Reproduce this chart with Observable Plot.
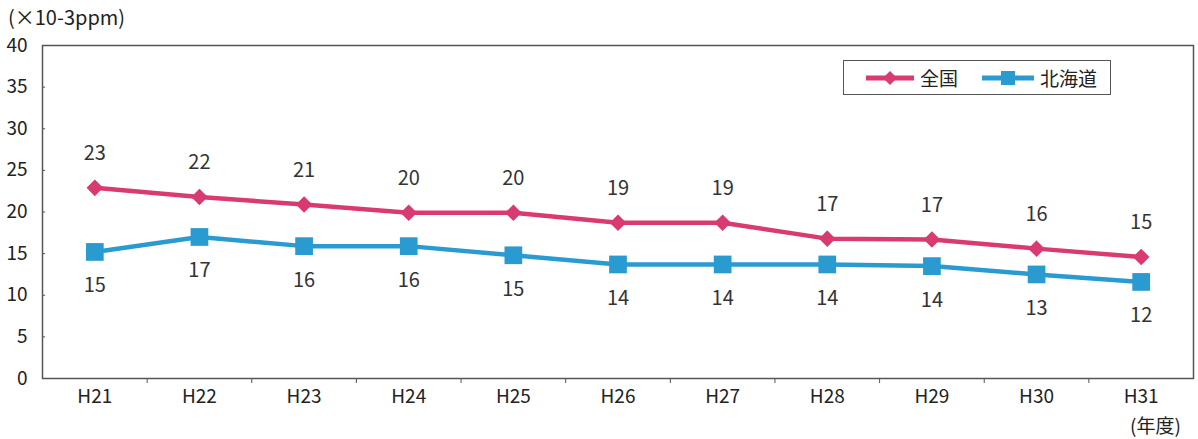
<!DOCTYPE html>
<html><head><meta charset="utf-8">
<script src="https://cdn.jsdelivr.net/npm/d3@7"></script>
<script src="https://cdn.jsdelivr.net/npm/@observablehq/plot@0.6"></script>
<style>
body{margin:0;background:#fff;}
#wrap{position:relative;width:1198px;height:439px;font-family:"Noto Sans CJK JP",sans-serif;}
.unit{position:absolute;left:8px;top:2px;font-size:20px;color:#222;}
.nendo{position:absolute;left:1130px;top:414px;font-size:19px;line-height:22px;color:#222;}
.legend{position:absolute;left:843px;top:60px;width:268px;height:35px;border:1.5px solid #555;box-sizing:border-box;display:flex;align-items:center;font-size:19px;color:#222;}
.legend .it{display:flex;align-items:center;margin-left:20px;}
.legend svg{margin-right:4px;}
</style></head><body>
<div id="wrap">
<div class="unit">(×10-3ppm)</div>
<div class="nendo">(年度)</div>
<div id="chart"></div>
<div class="legend">
 <div class="it"><svg width="52" height="16"><line x1="2" y1="8" x2="50" y2="8" stroke="#d93a72" stroke-width="5"/><path d="M26 1 L33 8 L26 15 L19 8Z" fill="#d93a72"/></svg>全国</div>
 <div class="it" style="margin-left:22px"><svg width="56" height="16"><line x1="2" y1="8" x2="54" y2="8" stroke="#2a9bd1" stroke-width="5"/><rect x="21" y="1" width="14" height="14" fill="#2a9bd1"/></svg>北海道</div>
</div>
</div>
<script>
const years = ["H21","H22","H23","H24","H25","H26","H27","H28","H29","H30","H31"];
const zenkoku = [22.9,21.8,20.9,19.9,19.9,18.7,18.7,16.8,16.7,15.6,14.6];
const zenkokuLabels = [23,22,21,20,20,19,19,17,17,16,15];
const hokkaido = [15.2,17.0,15.9,15.9,14.8,13.7,13.7,13.7,13.5,12.5,11.6];
const hokkaidoLabels = [15,17,16,16,15,14,14,14,14,13,12];
const yTicks = [0,5,10,15,20,25,30,35,40];

const pink = "#d93a72", blue = "#2a9bd1";
const z = years.map((y,i)=>({i, v: zenkoku[i], lab: zenkokuLabels[i]}));
const h = years.map((y,i)=>({i, v: hokkaido[i], lab: hokkaidoLabels[i]}));
const bounds = d3.range(0.5, 10, 1);

const chart = Plot.plot({
  width: 1198, height: 439,
  marginLeft: 42, marginRight: 5, marginTop: 45, marginBottom: 61,
  style: {fontFamily: "'Noto Sans CJK JP', sans-serif", fontSize: "19px", color: "#222"},
  x: {domain: [-0.5, 10.5]},
  y: {domain: [0, 40]},
  marks: [
    Plot.frame({stroke: "#555", strokeWidth: 1.5}),
    Plot.axisY({ticks: yTicks, tickSize: 0, tickPadding: 15, label: null, fontSize: 19}),
    Plot.ruleY(yTicks.slice(1,-1), {y: d=>d, x1: -0.5, x2: -0.47, stroke: "#555"}),
    Plot.axisX({ticks: d3.range(11), tickFormat: i => years[i], tickSize: 0, tickPadding: 11, label: null, fontSize: 19}),
    Plot.axisX({ticks: bounds, tickFormat: () => "", tickSize: 5, stroke: "#555", label: null}),
    Plot.line(z, {x: "i", y: "v", stroke: pink, strokeWidth: 4.5}),
    Plot.dot(z, {x: "i", y: "v", symbol: "diamond2", r: 6.5, fill: pink, stroke: pink}),
    Plot.line(h, {x: "i", y: "v", stroke: blue, strokeWidth: 4.5}),
    Plot.dot(h, {x: "i", y: "v", symbol: "square", r: 10, fill: blue, stroke: "none"}),
    Plot.text(z, {x: "i", y: "v", text: "lab", dy: -34, fontSize: 20, fill: "#333"}),
    Plot.text(h, {x: "i", y: "v", text: "lab", dy: 34, fontSize: 20, fill: "#333"})
  ]
});
document.getElementById("chart").appendChild(chart);
</script>
</body></html>
